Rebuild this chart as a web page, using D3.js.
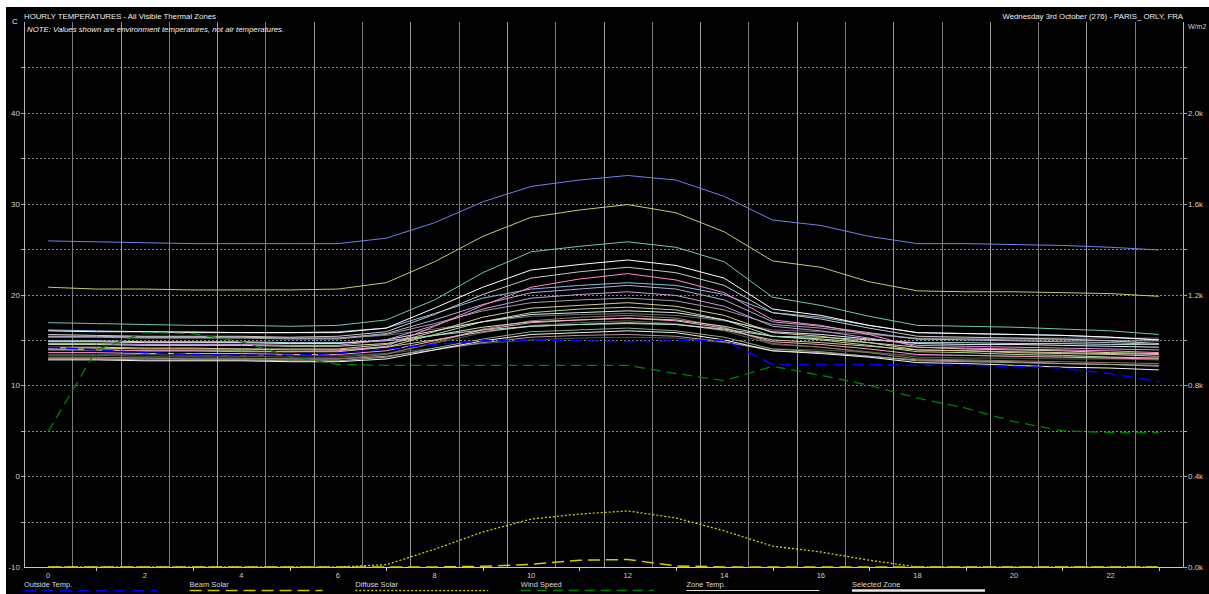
<!DOCTYPE html>
<html><head><meta charset="utf-8">
<script src="https://cdn.jsdelivr.net/npm/d3@7"></script>
<style>html,body{margin:0;padding:0;background:#fff;overflow:hidden;} svg{display:block;font-family:"Liberation Sans",Arial,sans-serif;}</style>
</head><body><svg id="c" width="1209" height="594"></svg>
<script>
// ---------------- DATA ----------------
const hours = [0,1,2,3,4,5,6,7,8,9,10,11,12,13,14,15,16,17,18,19,20,21,22,23];
const xTickLabels = [0,2,4,6,8,10,12,14,16,18,20,22];
const leftTickLabels = [-10,0,10,20,30,40];
const leftGrid = [-5,0,5,10,15,20,25,30,35,40,45];
const rightTickLabels = [0,400,800,1200,1600,2000];
const rightTicks = [0,200,400,600,800,1000,1200,1400,1600,1800,2000,2200];

const outsideTemp = [14.2,13.9,13.6,13.4,13.3,13.3,13.5,14.0,14.5,14.9,15.0,14.9,14.8,14.9,15.0,12.3,12.3,12.3,12.2,12.2,12.1,11.9,11.3,10.4];
const windSpeed   = [4.9,13.9,15.8,15.7,14.8,13.2,12.3,12.2,12.2,12.2,12.2,12.2,12.2,11.3,10.5,12.1,11.1,10.0,8.6,7.5,6.0,5.0,4.8,4.8];
const beamSolar   = [0,0,0,0,0,0,0,0,0,3,12,30,33,5,0,0,0,0,0,0,0,0,0,0];
const diffuseSolar= [0,0,0,0,0,0,0,10,78,154,211,233,247,216,159,92,66,30,0,0,0,0,0,0];

const zone01 = [25.9,25.8,25.7,25.6,25.6,25.6,25.6,26.2,27.9,30.2,31.9,32.6,33.1,32.6,30.8,28.2,27.6,26.4,25.6,25.6,25.5,25.4,25.2,24.9];
const zone02 = [20.8,20.6,20.6,20.5,20.5,20.5,20.6,21.3,23.6,26.4,28.5,29.3,29.9,29.0,26.9,23.7,23.0,21.4,20.4,20.3,20.3,20.2,20.1,19.8];
const zone03 = [16.9,16.8,16.7,16.6,16.6,16.5,16.6,17.2,19.4,22.4,24.7,25.3,25.8,25.2,23.6,19.7,18.8,17.6,16.6,16.5,16.4,16.2,16.0,15.6];
const zone04 = [16.0,15.9,15.9,15.8,15.8,15.8,15.8,16.3,18.5,20.8,22.7,23.3,23.8,23.2,21.8,18.4,17.7,16.6,15.8,15.7,15.6,15.5,15.3,15.0];
const zone05 = [15.6,15.5,15.4,15.4,15.4,15.3,15.4,15.9,17.8,20.0,21.8,22.5,23.0,22.4,21.0,18.0,17.3,16.3,15.4,15.3,15.2,15.1,14.9,14.6];
const zone06 = [14.0,13.9,13.8,13.8,13.7,13.7,13.8,14.3,16.5,18.8,20.8,21.7,22.3,21.6,20.2,17.2,16.6,15.6,14.2,14.1,14.0,13.9,13.8,13.6];
const zone07 = [16.1,16.0,15.9,15.9,15.8,15.8,15.9,16.3,17.9,19.6,20.6,21.0,21.3,21.0,20.0,18.0,17.5,16.6,15.8,15.7,15.6,15.5,15.3,15.0];
const zone08 = [14.6,14.6,14.5,14.5,14.5,14.4,14.4,15.0,16.6,18.4,19.6,20.0,20.3,19.9,18.7,16.5,16.0,15.2,14.4,14.3,14.2,14.1,14.0,13.9];
const zone09 = [15.3,15.3,15.2,15.2,15.2,15.1,15.1,15.6,16.8,18.2,19.1,19.4,19.6,19.3,18.3,16.7,16.3,15.7,15.1,15.1,15.0,15.0,14.9,14.9];
const zone10 = [14.2,14.2,14.1,14.1,14.0,14.0,14.0,14.5,15.9,17.5,18.5,18.8,19.1,18.7,17.7,15.8,15.4,14.7,13.9,13.8,13.6,13.5,13.4,13.2];
const zone11 = [13.9,13.9,13.8,13.8,13.8,13.7,13.7,14.2,15.6,17.0,18.0,18.4,18.6,18.3,17.2,15.4,15.0,14.4,13.7,13.6,13.4,13.3,13.1,13.0];
const zone12 = [14.8,14.8,14.7,14.7,14.7,14.6,14.6,15.0,16.0,17.0,17.8,18.0,18.2,18.0,17.2,15.9,15.6,15.1,14.6,14.5,14.5,14.4,14.3,14.2];
const zone13 = [13.1,13.1,13.0,13.0,13.0,12.9,12.9,13.4,14.7,16.2,17.1,17.5,17.7,17.4,16.4,14.6,14.2,13.6,12.9,12.8,12.7,12.6,12.5,12.4];
const zone14 = [14.5,14.5,14.4,14.4,14.4,14.3,14.3,14.6,15.5,16.4,17.0,17.2,17.4,17.2,16.5,15.4,15.1,14.7,14.2,14.0,13.9,13.8,13.6,13.5];
const zone15 = [13.3,13.3,13.2,13.2,13.2,13.1,13.1,13.5,14.6,15.8,16.6,16.9,17.1,16.8,16.0,14.5,14.2,13.7,13.1,13.0,13.0,12.9,12.9,12.8];
const zone16 = [13.6,13.6,13.5,13.5,13.5,13.4,13.4,13.8,14.9,16.1,16.9,17.2,17.4,17.1,16.3,14.8,14.5,14.0,13.4,13.3,13.2,13.1,13.0,12.9];
const zone17 = [14.9,14.9,14.8,14.8,14.8,14.7,14.7,14.9,15.5,16.1,16.5,16.7,16.8,16.7,16.2,15.4,15.3,15.0,14.7,14.7,14.6,14.6,14.5,14.5];
const zone18 = [12.9,12.9,12.8,12.8,12.8,12.7,12.7,13.1,14.1,15.1,15.9,16.1,16.3,16.0,15.3,14.0,13.7,13.2,12.7,12.6,12.5,12.4,12.3,12.2];
const zone19 = [12.8,12.8,12.7,12.7,12.7,12.6,12.6,12.9,13.9,14.9,15.6,15.8,16.0,15.8,15.0,13.8,13.5,13.1,12.5,12.4,12.2,12.0,11.9,11.7];
const zone20 = [15.4,15.4,15.3,15.3,15.3,15.2,15.2,15.5,16.2,17.0,17.6,17.8,17.9,17.7,17.1,16.1,15.9,15.6,15.2,15.2,15.2,15.2,15.2,15.2];
const zone21 = [13.0,13.0,13.0,12.9,12.9,12.9,12.9,13.2,13.9,14.7,15.3,15.5,15.6,15.4,14.8,13.8,13.6,13.2,12.8,12.7,12.6,12.4,12.3,12.1];
const zone22 = [14.1,14.1,14.0,14.0,14.0,13.9,13.9,14.2,15.0,15.9,16.5,16.7,16.9,16.7,16.1,15.0,14.7,14.3,13.9,13.8,13.7,13.6,13.5,13.4];
const zone23 = [13.4,13.4,13.4,13.3,13.3,13.3,13.3,13.5,14.1,14.6,15.0,15.2,15.3,15.2,14.7,14.0,13.9,13.6,13.3,13.3,13.2,13.2,13.1,13.0];
const zone24 = [15.4,15.4,15.3,15.3,15.3,15.2,15.2,15.7,17.2,18.9,20.2,20.6,21.0,20.6,19.4,17.0,16.5,15.8,15.1,15.0,14.9,14.8,14.7,14.5];

const zoneSeries = [zone23,zone21,zone15,zone13,zone18,zone20,zone22,zone14,zone17,zone11,zone10,zone16,zone12,zone19,zone09,zone08,zone24,zone07,zone06,zone05,zone04,zone03,zone02,zone01];
const zoneColors = ['#3e5a3e','#bb90aa','#4f6640','#8a7866','#98aa88','#6a6a7a','#cccc99','#ccdda8','#a8dcdc','#a8d8a0','#d8c890','#ff9ad0','#e8e8e8','#f4f4f4','#a0a0a0','#c89ad8','#b0b0d0','#88bbee','#ff88cc','#c8c8c8','#ffffff','#70c8a8','#c8c870','#7080e8'];

const legendItems = ['Outside Temp.','Beam Solar','Diffuse Solar','Wind Speed','Zone Temp.','Selected Zone'];
const legendColors = ['#0000ff','#c8c800','#c8c800','#008000','#e0e0e0','#e8e8e8'];
const legendDash = ['12,6','12,6','2,2','10,6','none','none'];
const legendWidth = [1.5,1.5,1.5,1.5,1.2,2.5];

// ---------------- DRAW ----------------
const svg = d3.select('#c');
const L = 24, R = 1183, T = 22, B = 567;
svg.append('rect').attr('x',0).attr('y',0).attr('width',1209).attr('height',594).attr('fill','#fff');
svg.append('rect').attr('x',6).attr('y',7).attr('width',1203).attr('height',587).attr('fill','#000');

const x = d3.scaleLinear().domain([-0.5, 23.5]).range([L, R]);
const yL = d3.scaleLinear().domain([-10, 50]).range([B, T]);
const yR = d3.scaleLinear().domain([0, 2400]).range([B, T]);

// horizontal dashed grid
svg.append('g').selectAll('line').data(leftGrid).join('line')
  .attr('x1', L).attr('x2', R+2)
  .attr('y1', d => Math.round(yL(d))+0.5).attr('y2', d => Math.round(yL(d))+0.5)
  .attr('stroke', '#8a8a8a').attr('stroke-width', 1).attr('stroke-dasharray', '2,2');

// vertical grid
const vLines = hours.map(h => h - 0.5).concat([23.5]);
svg.append('g').selectAll('line').data(vLines).join('line')
  .attr('x1', d => Math.round(x(d))+0.5).attr('x2', d => Math.round(x(d))+0.5)
  .attr('y1', T).attr('y2', B)
  .attr('stroke', (d,i) => (i===0||i===vLines.length-1) ? '#b4b4b4' : (i % 2 ? '#7c7c7c' : '#9a9a9a')).attr('stroke-width', 1);

// bottom axis line
svg.append('line').attr('x1', L).attr('x2', R+1).attr('y1', B+0.5).attr('y2', B+0.5)
  .attr('stroke', '#c8c8c8').attr('stroke-width', 1);

// left axis ticks/labels
svg.append('g').selectAll('line').data(leftGrid).join('line')
  .attr('x1', L-3).attr('x2', L).attr('y1', d => Math.round(yL(d))+0.5).attr('y2', d => Math.round(yL(d))+0.5)
  .attr('stroke', '#aaa');
svg.append('g').selectAll('text').data(leftTickLabels).join('text')
  .attr('x', 20).attr('y', d => yL(d) + 3).attr('text-anchor', 'end')
  .attr('font-size', 8).attr('fill', '#d0d0d0').text(d => d);

// right axis
svg.append('g').selectAll('line').data(rightTicks).join('line')
  .attr('x1', R).attr('x2', R+4).attr('y1', d => Math.round(yR(d))+0.5).attr('y2', d => Math.round(yR(d))+0.5)
  .attr('stroke', '#aaa');
svg.append('g').selectAll('text').data(rightTickLabels).join('text')
  .attr('x', 1188).attr('y', d => yR(d) + 3)
  .attr('font-size', 8).attr('fill', '#d0d0d0').text(d => (d/1000).toFixed(1) + 'k');

// x axis ticks/labels
svg.append('g').selectAll('line').data(hours.filter(h => h % 2 === 1)).join('line')
  .attr('x1', d => Math.round(x(d))+0.5).attr('x2', d => Math.round(x(d))+0.5)
  .attr('y1', B+1).attr('y2', B+4).attr('stroke', '#c8c8c8');
svg.append('g').selectAll('text').data(xTickLabels).join('text')
  .attr('x', d => x(d)).attr('y', 578).attr('text-anchor', 'middle')
  .attr('font-size', 7.5).attr('fill', '#d0d0d0').text(d => d);

// titles
svg.append('text').attr('x', 24).attr('y', 19).attr('font-size', 7.8).attr('fill', '#f0f0f0')
  .text('HOURLY TEMPERATURES - All Visible Thermal Zones');
svg.append('text').attr('x', 27).attr('y', 32).attr('font-size', 7.8).attr('font-style', 'italic').attr('fill', '#f0f0f0')
  .text('NOTE: Values shown are environment temperatures, not air temperatures.');
svg.append('text').attr('x', 1183).attr('y', 19).attr('font-size', 7.8).attr('text-anchor', 'end').attr('fill', '#f0f0f0')
  .text('Wednesday 3rd October (276) - PARIS_ ORLY, FRA');
svg.append('text').attr('x', 12).attr('y', 24).attr('font-size', 7.8).attr('fill', '#f0f0f0').text('C');
svg.append('text').attr('x', 1188).attr('y', 29).attr('font-size', 7).attr('fill', '#d0d0d0').text('W/m2');

// zone lines
const lineL = d3.line().x((d,i) => x(hours[i])).y(d => yL(d));
const lineR = d3.line().x((d,i) => x(hours[i])).y(d => yR(d));
svg.append('g').selectAll('path').data(zoneSeries).join('path')
  .attr('d', d => lineL(d)).attr('fill', 'none')
  .attr('stroke', (d,i) => zoneColors[i]).attr('stroke-width', 1);

// weather lines
svg.append('path').attr('d', lineL(windSpeed)).attr('fill','none')
  .attr('stroke', '#008000').attr('stroke-width', 1.3).attr('stroke-dasharray', '10,6');
svg.append('path').attr('d', lineL(outsideTemp)).attr('fill','none')
  .attr('stroke', '#0000ff').attr('stroke-width', 1.5).attr('stroke-dasharray', '12,6');
svg.append('path').attr('d', lineR(diffuseSolar)).attr('fill','none')
  .attr('stroke', '#d0d000').attr('stroke-width', 1.3).attr('stroke-dasharray', '2,2');
svg.append('path').attr('d', lineR(beamSolar)).attr('fill','none')
  .attr('stroke', '#d0d000').attr('stroke-width', 1.5).attr('stroke-dasharray', '12,6');

// legend
const lg = svg.append('g');
legendItems.forEach((name, i) => {
  const lx = 24 + i * 165.6;
  lg.append('text').attr('x', lx).attr('y', 587).attr('font-size', 7.5).attr('fill', '#d8d8d8').text(name);
  lg.append('line').attr('x1', lx).attr('x2', lx + 133).attr('y1', 590.5).attr('y2', 590.5)
    .attr('stroke', legendColors[i]).attr('stroke-width', legendWidth[i])
    .attr('stroke-dasharray', legendDash[i] === 'none' ? null : legendDash[i]);
});
</script></body></html>
